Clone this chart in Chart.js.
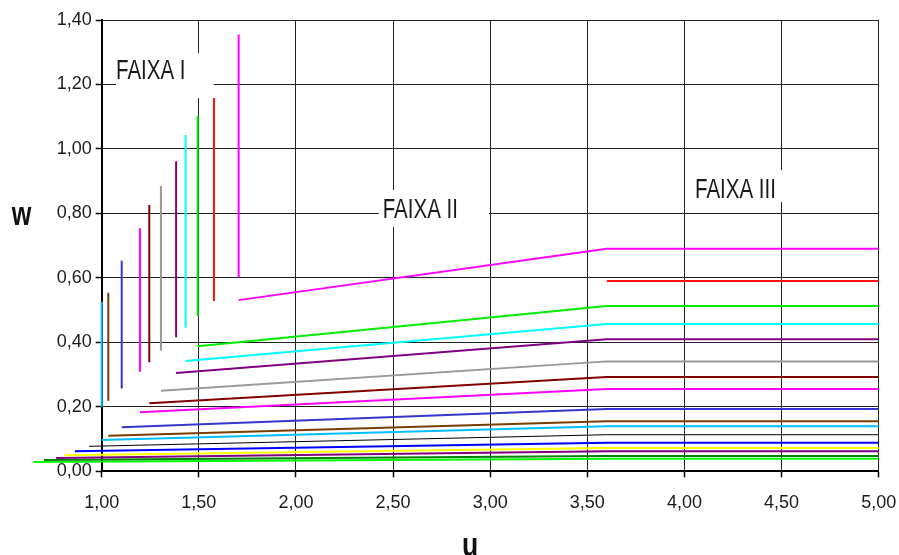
<!DOCTYPE html>
<html>
<head>
<meta charset="utf-8">
<title>w x u</title>
<script src="https://cdn.jsdelivr.net/npm/chart.js@4.4.1/dist/chart.umd.min.js"></script>
<style>
  html, body { margin: 0; padding: 0; background: #ffffff; }
  #c { display: block; }
</style>
</head>
<body>
<canvas id="c" width="899" height="555"></canvas>
<script>
// Curves, listed from the top one down to the bottom one.
const curveColors = ['#ff00ff', '#ff1010', '#00ee00', '#00ffff', '#800080', '#999999', '#800000', '#ff00ff',
                     '#3535cc', '#7a3d00', '#00bfff', '#000000', '#0000ff', '#ffff00', '#800080', '#008000', '#00ff00'];
// u where each curve begins (FAIXA I vertical and FAIXA II start)
const uStart = [1.705, 1.578, 1.494, 1.432, 1.383, 1.305, 1.245, 1.197,
                1.103, 1.034, 1.000, 0.935, 0.862, 0.808, 0.765, 0.703, 0.648];
// FAIXA I: vertical segment limits
const wTopI    = [1.355, 1.158, 1.103, 1.043, 0.962, 0.885, 0.826, 0.754,
                  0.653, 0.554, 0.526, null, null, null, null, null, null];
const wBottomI = [0.602, 0.528, 0.482, 0.445, 0.416, 0.374, 0.338, 0.309,
                  0.257, 0.219, 0.200, null, null, null, null, null, null];
// FAIXA II: w at the start of the rising segment
const wStartII = [0.531, null, 0.388, 0.342, 0.305, 0.250, 0.211, 0.183,
                  0.137, 0.110, 0.097, 0.0775, 0.062, 0.050, 0.041, 0.035, 0.029];
// FAIXA III: constant w from the knee to the end
const wPlateauIII = [0.690, 0.590, 0.513, 0.457, 0.410, 0.341, 0.2925, 0.255,
                     0.193, 0.155, 0.1395, 0.1135, 0.0887, 0.0723, 0.062, 0.0475, 0.039];
const uKnee = 3.6;
const uEnd = 5.0;

// Axis ticks
const uTicks = [1.0, 1.5, 2.0, 2.5, 3.0, 3.5, 4.0, 4.5, 5.0];
const wTicks = [0.0, 0.2, 0.4, 0.6, 0.8, 1.0, 1.2, 1.4];

// Zone labels: text, u of the text's left edge, w of its vertical centre
const zoneNames = ['FAIXA I', 'FAIXA II', 'FAIXA III'];
const zoneU = [1.0736, 2.4466, 4.0543];
const zoneW = [1.2447, 0.8105, 0.8725];
// white backing box round each label: [left, top, extra right, bottom] in px
const zoneBox = [[0, -17, 28, 28], [-4, -20, 31, 17], [-4, -20, 7, 12]];

const FONT = "'Liberation Sans', Arial, sans-serif";

function buildCurve(i) {
  const pts = [];
  if (wTopI[i] !== null) {
    pts.push({ x: uStart[i], y: wTopI[i] });
    pts.push({ x: uStart[i], y: wBottomI[i] });
    pts.push({ x: uStart[i], y: null });
  }
  if (wStartII[i] !== null) pts.push({ x: uStart[i], y: wStartII[i] });
  pts.push({ x: uKnee, y: wPlateauIII[i] });
  pts.push({ x: uEnd, y: wPlateauIII[i] });
  return pts;
}

const datasets = curveColors.map((col, i) => ({
  data: buildCurve(i),
  borderColor: col,
  borderWidth: col === '#000000' ? 1 : 2,
  pointRadius: 0,
  tension: 0,
  spanGaps: false,
  clip: false
}));

const fmt = v => v.toFixed(2).replace('.', ',');

// condensed text: draw with a horizontal squeeze
function narrowText(ctx, text, x, y, sx) {
  ctx.save();
  ctx.translate(x, y);
  ctx.scale(sx, 1);
  ctx.fillText(text, 0, 0);
  ctx.restore();
}

const zoneLabels = {
  id: 'zoneLabels',
  beforeDatasetsDraw(chart) {
    const { ctx, scales: { x, y } } = chart;
    const sx = 0.76;
    ctx.save();
    ctx.font = '27px ' + FONT;
    ctx.textBaseline = 'middle';
    ctx.textAlign = 'left';
    zoneNames.forEach((name, k) => {
      const px = x.getPixelForValue(zoneU[k]);
      const py = y.getPixelForValue(zoneW[k]);
      const w = ctx.measureText(name).width * sx;
      const b = zoneBox[k];
      ctx.fillStyle = '#ffffff';
      ctx.fillRect(px + b[0], py + b[1], w + b[2] - b[0], b[3] - b[1]);
      ctx.fillStyle = '#1a1a1a';
      narrowText(ctx, name, px, py + 1, sx);
    });
    ctx.restore();
  }
};

const axisNames = {
  id: 'axisNames',
  afterDraw(chart) {
    const { ctx } = chart;
    ctx.save();
    ctx.fillStyle = '#111111';
    ctx.font = 'bold 34px ' + FONT;
    ctx.textAlign = 'center';
    ctx.textBaseline = 'alphabetic';
    narrowText(ctx, 'w', 21.5, 225, 0.74);
    narrowText(ctx, 'u', 470, 556, 0.78);
    ctx.restore();
  }
};

new Chart(document.getElementById('c'), {
  type: 'line',
  data: { datasets },
  plugins: [zoneLabels, axisNames],
  options: {
    responsive: false,
    animation: false,
    events: [],
    layout: { padding: { top: 20, right: 20.3, left: 0, bottom: 0 } },
    plugins: { legend: { display: false }, tooltip: { enabled: false }, title: { display: false } },
    scales: {
      x: {
        type: 'linear',
        min: 1.0,
        max: 5.0,
        afterBuildTicks: s => { s.ticks = uTicks.map(v => ({ value: v })); },
        afterFit: s => { s.height = 83.7; s.paddingLeft = 0; s.paddingRight = 0; },
        grid: { color: '#222222', lineWidth: 1, tickLength: 6, tickColor: '#000000', tickWidth: 1.5 },
        border: { color: '#000000', width: 2 },
        ticks: {
          callback: v => fmt(v),
          font: { family: FONT, size: 18 },
          color: '#1a1a1a',
          padding: 15,
          maxRotation: 0,
          autoSkip: false
        }
      },
      y: {
        type: 'linear',
        min: 0,
        max: 1.4,
        afterBuildTicks: s => { s.ticks = wTicks.map(v => ({ value: v })); },
        afterFit: s => { s.width = 101.7; s.paddingTop = 0; s.paddingBottom = 0; },
        grid: { color: '#222222', lineWidth: 1, tickLength: 6, tickColor: '#000000', tickWidth: 1.5 },
        border: { color: '#000000', width: 2 },
        ticks: {
          callback: v => fmt(v),
          font: { family: FONT, size: 18 },
          color: '#1a1a1a',
          padding: 4,
          autoSkip: false
        }
      }
    }
  }
});
</script>
</body>
</html>
